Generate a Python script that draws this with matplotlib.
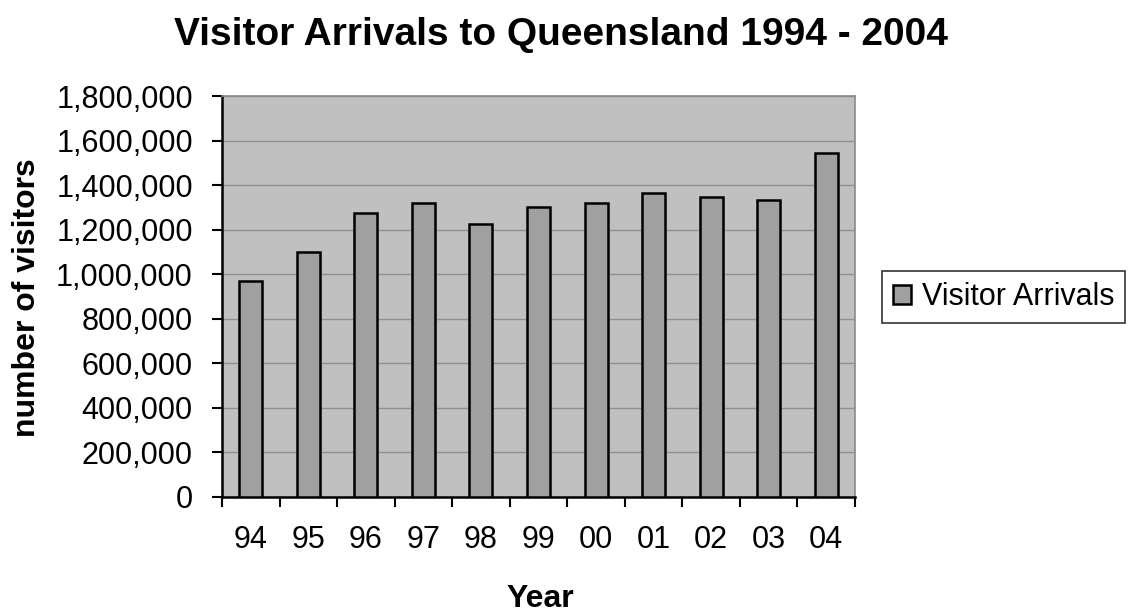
import matplotlib
matplotlib.use("Agg")
import matplotlib.pyplot as plt
from matplotlib.ticker import FuncFormatter, MultipleLocator
import numpy as np

plt.rcParams['font.family'] = ['Liberation Sans', 'DejaVu Sans']

years = ["94", "95", "96", "97", "98", "99", "00", "01", "02", "03", "04"]
arrivals = [970000, 1100000, 1277000, 1320000, 1224000, 1302000,
            1320000, 1365000, 1345000, 1335000, 1545000]
series_name = "Visitor Arrivals"

W, H = 1132, 612
fig = plt.figure(figsize=(W / 100, H / 100), dpi=100)
ax = fig.add_axes([222 / W, 1 - 497 / H, (855 - 222) / W, (497 - 96) / H])
ax.set_facecolor("#c0c0c0")

x = np.arange(len(years))
ax.bar(x, arrivals, width=0.4, color="#a0a0a0", edgecolor="black",
       linewidth=1.8, label=series_name, zorder=3)

ax.set_xlim(-0.5, len(years) - 0.5)
ax.set_ylim(0, 1800000)
ax.yaxis.set_major_locator(MultipleLocator(200000))
ax.yaxis.set_major_formatter(FuncFormatter(lambda v, p: f"{int(v):,}"))
ax.grid(axis="y", color="#909090", linewidth=1.0, zorder=1)

# category boundary ticks on the x axis, labels centred between them
ax.set_xticks(np.arange(-0.5, len(years) + 0.5, 1.0))
ax.set_xticklabels([])
ax.set_xticks(x, minor=True)
ax.set_xticklabels(years, minor=True, fontsize=22)
ax.tick_params(axis="x", which="minor", length=0, pad=20)
ax.tick_params(axis="x", which="major", length=7, width=1.5, direction="out")
ax.tick_params(axis="y", length=7, width=1.5, direction="out",
               labelsize=22, pad=14)

for side in ("left", "bottom"):
    ax.spines[side].set_linewidth(1.8)
    ax.spines[side].set_color("black")
for side in ("top", "right"):
    ax.spines[side].set_linewidth(1.2)
    ax.spines[side].set_color("#8a8a8a")

fig.text(561 / W, 1 - 35 / H, "Visitor Arrivals to Queensland 1994 - 2004",
         fontsize=28, fontweight="bold", ha="center", va="center")
fig.text(540 / W, 1 - 599 / H, "Year", fontsize=23, fontweight="bold",
         ha="center", va="center")
fig.text(27 / W, 1 - 298 / H, "number of visitors", fontsize=23,
         fontweight="bold", rotation=90, ha="center", va="center")

leg = ax.legend(loc="center left", bbox_to_anchor=(882 / W, 1 - 297 / H),
                bbox_transform=fig.transFigure, fontsize=22,
                frameon=True, fancybox=False, edgecolor="black",
                handlelength=0.6, handleheight=0.6, handletextpad=0.35,
                borderpad=0.35, borderaxespad=0)
leg.get_frame().set_linewidth(1.2)

fig.savefig("out.png", dpi=100, facecolor="white")
